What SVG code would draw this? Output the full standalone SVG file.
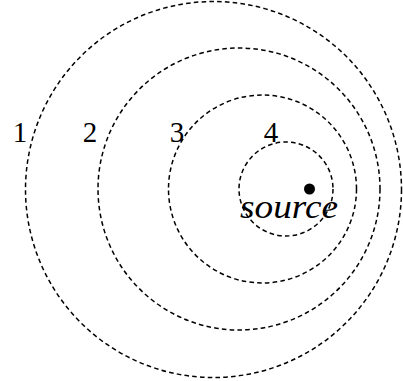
<svg xmlns="http://www.w3.org/2000/svg" width="403" height="381" viewBox="0 0 403 381">
<style>
.wave{fill:none;stroke:#000;stroke-width:1.5;stroke-dasharray:4.6 3.2}
.lbl{font-family:"Liberation Serif","DejaVu Serif",serif;font-size:29px;fill:#000;text-anchor:middle}
</style>
<rect width="403" height="381" fill="#fff"/>
<g id="connectors"></g>
<g id="wave1"><circle class="wave" cx="213.5" cy="189.5" r="188"/><text class="lbl" x="20" y="142">1</text></g>
<g id="wave2"><circle class="wave" cx="239" cy="189" r="141"/><text class="lbl" x="90" y="142">2</text></g>
<g id="wave3"><circle class="wave" cx="262.5" cy="189" r="94"/><text class="lbl" x="177" y="142">3</text></g>
<g id="wave4"><circle class="wave" cx="286" cy="189" r="47"/><text class="lbl" x="271" y="142">4</text></g>
<g id="source"><circle cx="309.5" cy="189" r="5.5" fill="#000"/><text x="240" y="218" font-family="'Liberation Serif','DejaVu Serif',serif" font-style="italic" font-size="33" textLength="98" lengthAdjust="spacingAndGlyphs">source</text></g>
</svg>
